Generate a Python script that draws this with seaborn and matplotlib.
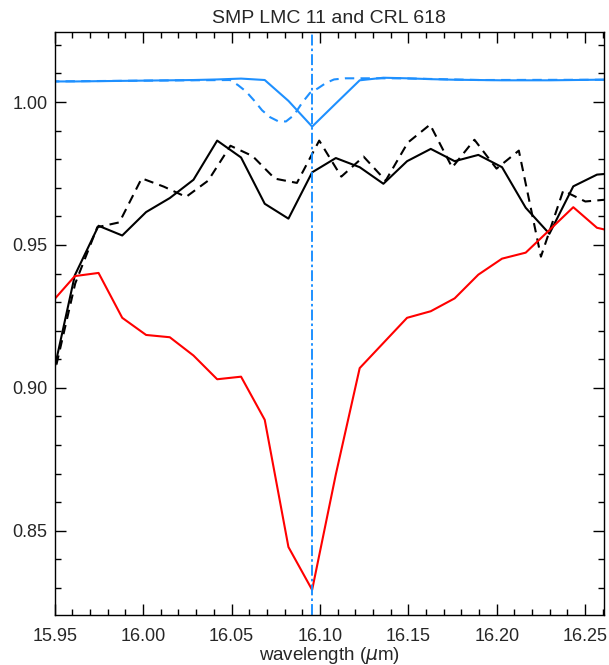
import matplotlib
matplotlib.use("Agg")
import matplotlib.pyplot as plt
import seaborn as sns
from matplotlib.ticker import MultipleLocator, FormatStrFormatter

# Wavelength grid of the SMP LMC 11 spectrum and its model (micron)
wl_lmc = [15.9480, 15.9614, 15.9748, 15.9882, 16.0017, 16.0151, 16.0285,
          16.0419, 16.0554, 16.0688, 16.0822, 16.0956, 16.1090, 16.1225,
          16.1359, 16.1493, 16.1627, 16.1762, 16.1896, 16.2030, 16.2164,
          16.2298, 16.2433, 16.2567, 16.2701]

# Wavelength grid of the CRL 618 spectrum (micron)
wl_crl = [15.9490, 15.9616, 15.9741, 15.9866, 15.9992, 16.0117, 16.0243,
          16.0368, 16.0494, 16.0619, 16.0745, 16.0870, 16.0996, 16.1121,
          16.1247, 16.1372, 16.1497, 16.1623, 16.1748, 16.1874, 16.1999,
          16.2125, 16.2250, 16.2376, 16.2501, 16.2627]

# Normalised SMP LMC 11 flux
flux_lmc = [0.9297, 0.9391, 0.9402, 0.9245, 0.9185, 0.9177, 0.9113,
            0.9030, 0.9039, 0.8888, 0.8443, 0.8293, 0.8697, 0.9069,
            0.9157, 0.9245, 0.9268, 0.9313, 0.9396, 0.9452, 0.9473,
            0.9552, 0.9632, 0.9560, 0.9541]

# Continuum-divided spectrum (solid) and CRL 618 (dashed)
flux_solid = [0.9015, 0.9394, 0.9567, 0.9533, 0.9615, 0.9664, 0.9728,
              0.9865, 0.9806, 0.9644, 0.9592, 0.9754, 0.9804, 0.9772,
              0.9714, 0.9793, 0.9836, 0.9793, 0.9815, 0.9772, 0.9630,
              0.9539, 0.9705, 0.9746, 0.9753]

flux_crl = [0.9028, 0.9365, 0.9562, 0.9579, 0.9733, 0.9704, 0.9668,
            0.9725, 0.9847, 0.9811, 0.9732, 0.9717, 0.9865, 0.9739,
            0.9809, 0.9725, 0.9858, 0.9921, 0.9771, 0.9868, 0.9767,
            0.9830, 0.9459, 0.9690, 0.9652, 0.9659]

# C2H2 model absorption profile on the SMP LMC 11 grid
model_lmc = [1.0072, 1.0072, 1.0073, 1.0074, 1.0075, 1.0076, 1.0077,
             1.0079, 1.0082, 1.0077, 1.0004, 0.9914, 0.9995, 1.0076,
             1.0085, 1.0083, 1.0080, 1.0078, 1.0077, 1.0076, 1.0076,
             1.0076, 1.0077, 1.0078, 1.0079]

# Shifted model profile
wl_model2 = [15.9473, 16.0039, 16.0492, 16.0537, 16.0582, 16.0627, 16.0673,
             16.0718, 16.0763, 16.0808, 16.0853, 16.0899, 16.0944, 16.0989,
             16.1035, 16.1080, 16.1142, 16.1453, 16.1906, 16.2640]
model2 = [1.0072, 1.0075, 1.0077, 1.0059, 1.0037, 1.0006, 0.9971,
          0.9947, 0.9933, 0.9932, 0.9954, 0.9997, 1.0032, 1.0048,
          1.0067, 1.0079, 1.0083, 1.0083, 1.0077, 1.0078]

line_center = 16.0955

title = "SMP LMC 11 and CRL 618"
xlabel = r"wavelength ($\mu$m)"
xticks = [15.95, 16.00, 16.05, 16.10, 16.15, 16.20, 16.25]
yticks = [0.85, 0.90, 0.95, 1.00]

sns.set_style("ticks")
plt.rcParams['font.family'] = ['Liberation Sans', 'DejaVu Sans']
plt.rcParams['mathtext.fontset'] = 'dejavusans'

BLUE = "#1E90FF"
RED = "#FF0000"

fig = plt.figure(figsize=(6.09, 6.65), dpi=100)
ax = fig.add_axes([0.0898, 0.0747, 0.9012, 0.8776])

lw = 1.5
sns.lineplot(x=wl_lmc, y=flux_solid, ax=ax, color="black", lw=lw,
             estimator=None, sort=False)
sns.lineplot(x=wl_crl, y=flux_crl, ax=ax, color="black", lw=lw,
             estimator=None, sort=False)
ax.lines[-1].set_linestyle((0, (4.5, 3.0)))
sns.lineplot(x=wl_lmc, y=flux_lmc, ax=ax, color=RED, lw=lw,
             estimator=None, sort=False)
sns.lineplot(x=wl_model2, y=model2, ax=ax, color=BLUE, lw=lw,
             estimator=None, sort=False)
ax.lines[-1].set_linestyle((0, (4.5, 3.0)))
sns.lineplot(x=wl_lmc, y=model_lmc, ax=ax, color=BLUE, lw=lw,
             estimator=None, sort=False)
ax.axvline(line_center, color=BLUE, lw=1.4,
           linestyle=(0, (5.6, 1.6, 1.3, 1.6)))

ax.set_xlim(15.95, 16.2604)
ax.set_ylim(0.8204, 1.0246)

ax.xaxis.set_major_locator(plt.FixedLocator(xticks))
ax.yaxis.set_major_locator(plt.FixedLocator(yticks))
ax.xaxis.set_minor_locator(MultipleLocator(0.01))
ax.yaxis.set_minor_locator(MultipleLocator(0.01))
ax.xaxis.set_major_formatter(FormatStrFormatter("%.2f"))
ax.yaxis.set_major_formatter(FormatStrFormatter("%.2f"))

ax.tick_params(which="both", direction="in", top=True, right=True,
               color="black", width=1.0, labelsize=13)
ax.tick_params(which="major", length=8)
ax.tick_params(which="minor", length=4.3)
ax.tick_params(axis="x", pad=9)
ax.tick_params(axis="y", pad=5)
for s in ax.spines.values():
    s.set_linewidth(1.0)
    s.set_color("black")

ax.set_title(title, fontsize=14, pad=6)
ax.set_xlabel(xlabel, fontsize=13.5, labelpad=0)
ax.set_ylabel("")

fig.savefig("out.png", dpi=100)
